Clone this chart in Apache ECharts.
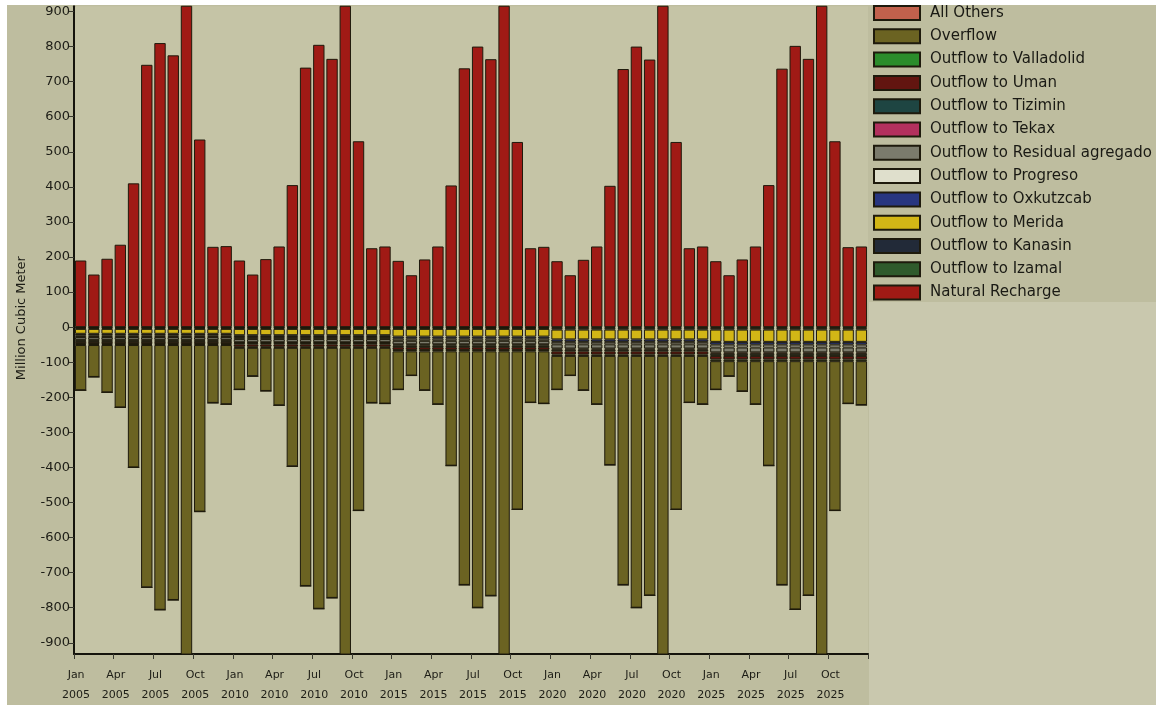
<!DOCTYPE html>
<html>
<head>
<meta charset="utf-8">
<script src="https://cdn.jsdelivr.net/npm/echarts@6/dist/echarts.min.js"></script>
<style>
  html, body { margin: 0; padding: 0; background: #ffffff; }
  #chart { position: absolute; left: 7px; top: 5px; width: 1149px; height: 700px; }
</style>
</head>
<body>
<div id="chart"></div>
<script>
// ---- Data ----
const months = ['Jan','Feb','Mar','Apr','May','Jun','Jul','Aug','Sep','Oct','Nov','Dec'];
const years = ['2005','2010','2015','2020','2025'];
const yTickValues = [-900,-800,-700,-600,-500,-400,-300,-200,-100,0,100,200,300,400,500,600,700,800,900];

const naturalRecharge = [
  190,150,195,235,410,748,810,775,1000,535,229,231,
  190,150,194,230,405,740,805,765,1000,530,225,230,
  189,148,193,230,404,738,800,764,1000,528,225,229,
  188,148,192,230,403,736,800,763,1000,528,225,230,
  188,148,193,230,405,737,802,765,1000,530,228,230
];
const outflowIzamal = [
  -2,-2,-2,-2,-2,-2,-2,-2,-2,-2,-2,-2,
  -2,-2,-2,-2,-2,-2,-2,-2,-2,-2,-2,-2,
  -2,-2,-2,-2,-2,-2,-2,-2,-2,-2,-2,-2,
  -3,-3,-3,-3,-3,-3,-3,-3,-3,-3,-3,-3,
  -3,-3,-3,-3,-3,-3,-3,-3,-3,-3,-3,-3
];
const outflowKanasin = [
  -3,-3,-3,-3,-3,-3,-3,-3,-3,-3,-3,-3,
  -3,-3,-3,-3,-3,-3,-3,-3,-3,-3,-3,-3,
  -3,-3,-3,-3,-3,-3,-3,-3,-3,-3,-3,-3,
  -4,-4,-4,-4,-4,-4,-4,-4,-4,-4,-4,-4,
  -4,-4,-4,-4,-4,-4,-4,-4,-4,-4,-4,-4
];
const outflowMerida = [
  -14,-14,-14,-14,-14,-14,-14,-14,-14,-14,-14,-14,
  -18,-18,-18,-18,-18,-18,-18,-18,-18,-18,-18,-18,
  -22,-22,-22,-22,-22,-22,-22,-22,-22,-22,-22,-22,
  -28,-28,-28,-28,-28,-28,-28,-28,-28,-28,-28,-28,
  -35,-35,-35,-35,-35,-35,-35,-35,-35,-35,-35,-35
];
const outflowOxkutzcab = [
  -4,-4,-4,-4,-4,-4,-4,-4,-4,-4,-4,-4,
  -5,-5,-5,-5,-5,-5,-5,-5,-5,-5,-5,-5,
  -6,-6,-6,-6,-6,-6,-6,-6,-6,-6,-6,-6,
  -7,-7,-7,-7,-7,-7,-7,-7,-7,-7,-7,-7,
  -8,-8,-8,-8,-8,-8,-8,-8,-8,-8,-8,-8
];
const outflowProgreso = [
  -5,-5,-5,-5,-5,-5,-5,-5,-5,-5,-5,-5,
  -6,-6,-6,-6,-6,-6,-6,-6,-6,-6,-6,-6,
  -6,-6,-6,-6,-6,-6,-6,-6,-6,-6,-6,-6,
  -7,-7,-7,-7,-7,-7,-7,-7,-7,-7,-7,-7,
  -8,-8,-8,-8,-8,-8,-8,-8,-8,-8,-8,-8
];
const outflowResidual = [
  -8,-8,-8,-8,-8,-8,-8,-8,-8,-8,-8,-8,
  -9,-9,-9,-9,-9,-9,-9,-9,-9,-9,-9,-9,
  -10,-10,-10,-10,-10,-10,-10,-10,-10,-10,-10,-10,
  -12,-12,-12,-12,-12,-12,-12,-12,-12,-12,-12,-12,
  -14,-14,-14,-14,-14,-14,-14,-14,-14,-14,-14,-14
];
const outflowTekax = [
  -2,-2,-2,-2,-2,-2,-2,-2,-2,-2,-2,-2,
  -2,-2,-2,-2,-2,-2,-2,-2,-2,-2,-2,-2,
  -3,-3,-3,-3,-3,-3,-3,-3,-3,-3,-3,-3,
  -3,-3,-3,-3,-3,-3,-3,-3,-3,-3,-3,-3,
  -4,-4,-4,-4,-4,-4,-4,-4,-4,-4,-4,-4
];
const outflowTizimin = [
  -4,-4,-4,-4,-4,-4,-4,-4,-4,-4,-4,-4,
  -4,-4,-4,-4,-4,-4,-4,-4,-4,-4,-4,-4,
  -5,-5,-5,-5,-5,-5,-5,-5,-5,-5,-5,-5,
  -5,-5,-5,-5,-5,-5,-5,-5,-5,-5,-5,-5,
  -6,-6,-6,-6,-6,-6,-6,-6,-6,-6,-6,-6
];
const outflowUman = [
  -6,-6,-6,-6,-6,-6,-6,-6,-6,-6,-6,-6,
  -7,-7,-7,-7,-7,-7,-7,-7,-7,-7,-7,-7,
  -8,-8,-8,-8,-8,-8,-8,-8,-8,-8,-8,-8,
  -9,-9,-9,-9,-9,-9,-9,-9,-9,-9,-9,-9,
  -10,-10,-10,-10,-10,-10,-10,-10,-10,-10,-10,-10
];
const outflowValladolid = [
  -3,-3,-3,-3,-3,-3,-3,-3,-3,-3,-3,-3,
  -3,-3,-3,-3,-3,-3,-3,-3,-3,-3,-3,-3,
  -4,-4,-4,-4,-4,-4,-4,-4,-4,-4,-4,-4,
  -4,-4,-4,-4,-4,-4,-4,-4,-4,-4,-4,-4,
  -5,-5,-5,-5,-5,-5,-5,-5,-5,-5,-5,-5
];
const overflow = [
  -129,-91,-135,-178,-349,-691,-755,-727,-909,-475,-165,-169,
  -119,-81,-123,-164,-338,-679,-744,-713,-901,-464,-157,-159,
  -109,-69,-111,-151,-326,-666,-731,-697,-891,-451,-146,-149,
  -96,-56,-98,-138,-311,-653,-718,-683,-878,-438,-133,-138,
  -81,-43,-86,-123,-298,-638,-708,-668,-863,-426,-121,-125
];
const allOthers = [
  0,0,0,0,0,0,0,0,0,0,0,0,
  0,0,0,0,0,0,0,0,0,0,0,0,
  0,0,0,0,0,0,0,0,0,0,0,0,
  0,0,0,0,0,0,0,0,0,0,0,0,
  0,0,0,0,0,0,0,0,0,0,0,0
];

// ---- Build ----
const categories = [];
years.forEach(y => months.forEach(m => categories.push(m + '\n' + y)));

const seriesDefs = [
  ['Natural Recharge', naturalRecharge, '#a01a15'],
  ['Outflow to Izamal', outflowIzamal, '#2f5a2c'],
  ['Outflow to Kanasin', outflowKanasin, '#222a38'],
  ['Outflow to Merida', outflowMerida, '#d2b616'],
  ['Outflow to Oxkutzcab', outflowOxkutzcab, '#283680'],
  ['Outflow to Progreso', outflowProgreso, '#dfdfcc'],
  ['Outflow to Residual agregado', outflowResidual, '#7b7b6c'],
  ['Outflow to Tekax', outflowTekax, '#b3305e'],
  ['Outflow to Tizimin', outflowTizimin, '#1e4542'],
  ['Outflow to Uman', outflowUman, '#621510'],
  ['Outflow to Valladolid', outflowValladolid, '#2b8c2b'],
  ['Overflow', overflow, '#6b6322'],
  ['All Others', allOthers, '#c2614c']
];

const series = seriesDefs.map(([name, data, color]) => ({
  name, type: 'bar', stack: 'total', data,
  barCategoryGap: '14%',
  clip: true,
  itemStyle: { color, borderColor: '#1e1a0c', borderWidth: 1 },
  emphasis: { disabled: true }
}));

const FONT = 'DejaVu Sans, Liberation Sans, Arial, sans-serif';
const chart = echarts.init(document.getElementById('chart'), null, { renderer: 'canvas' });
chart.setOption({
  backgroundColor: '#bebd9f',
  animation: false,
  textStyle: { fontFamily: FONT, color: '#1d1d16' },
  graphic: [{
    type: 'rect', silent: true, z: -10,
    shape: { x: 862, y: 297, width: 300, height: 410 },
    style: { fill: '#c9c8ae' }
  }],
  grid: {
    left: 66, top: 0, right: 288, bottom: 51,
    show: true, backgroundColor: '#c5c4a6', borderWidth: 0
  },
  legend: {
    orient: 'vertical',
    left: 866, top: 0,
    itemWidth: 46, itemHeight: 14, itemGap: 7.3,
    icon: 'rect',
    padding: [0, 0, 0, 0],
    textStyle: { fontSize: 15, color: '#1a1a14', fontFamily: FONT, padding: [0, 0, 0, 5] },
    data: seriesDefs.map(d => d[0]).reverse()
  },
  xAxis: {
    type: 'category',
    data: categories,
    boundaryGap: true,
    axisLine: { onZero: false, lineStyle: { color: '#15140c', width: 2 } },
    axisTick: { show: true, interval: 2, alignWithLabel: false, length: 5, lineStyle: { color: '#3a3a30', width: 1 } },
    axisLabel: {
      interval: (idx) => idx % 3 === 0,
      fontSize: 11, color: '#1d1d16', lineHeight: 20, margin: 11,
      fontFamily: FONT, hideOverlap: false,
      padding: [0, 9, 0, 0]
    }
  },
  yAxis: {
    type: 'value',
    min: -932, max: 915,
    name: 'Million Cubic Meter',
    nameLocation: 'middle',
    nameGap: 46,
    nameTextStyle: { fontSize: 13, color: '#1d1d16', fontFamily: FONT, padding: [0, 0, 0, 24] },
    axisLine: { show: true, lineStyle: { color: '#15140c', width: 2 } },
    axisTick: { show: true, length: 5, customValues: yTickValues, lineStyle: { color: '#3a3a30' } },
    axisLabel: { fontSize: 13, color: '#1d1d16', margin: 4, customValues: yTickValues, fontFamily: FONT },
    splitLine: { show: false }
  },
  series
});
</script>
</body>
</html>
